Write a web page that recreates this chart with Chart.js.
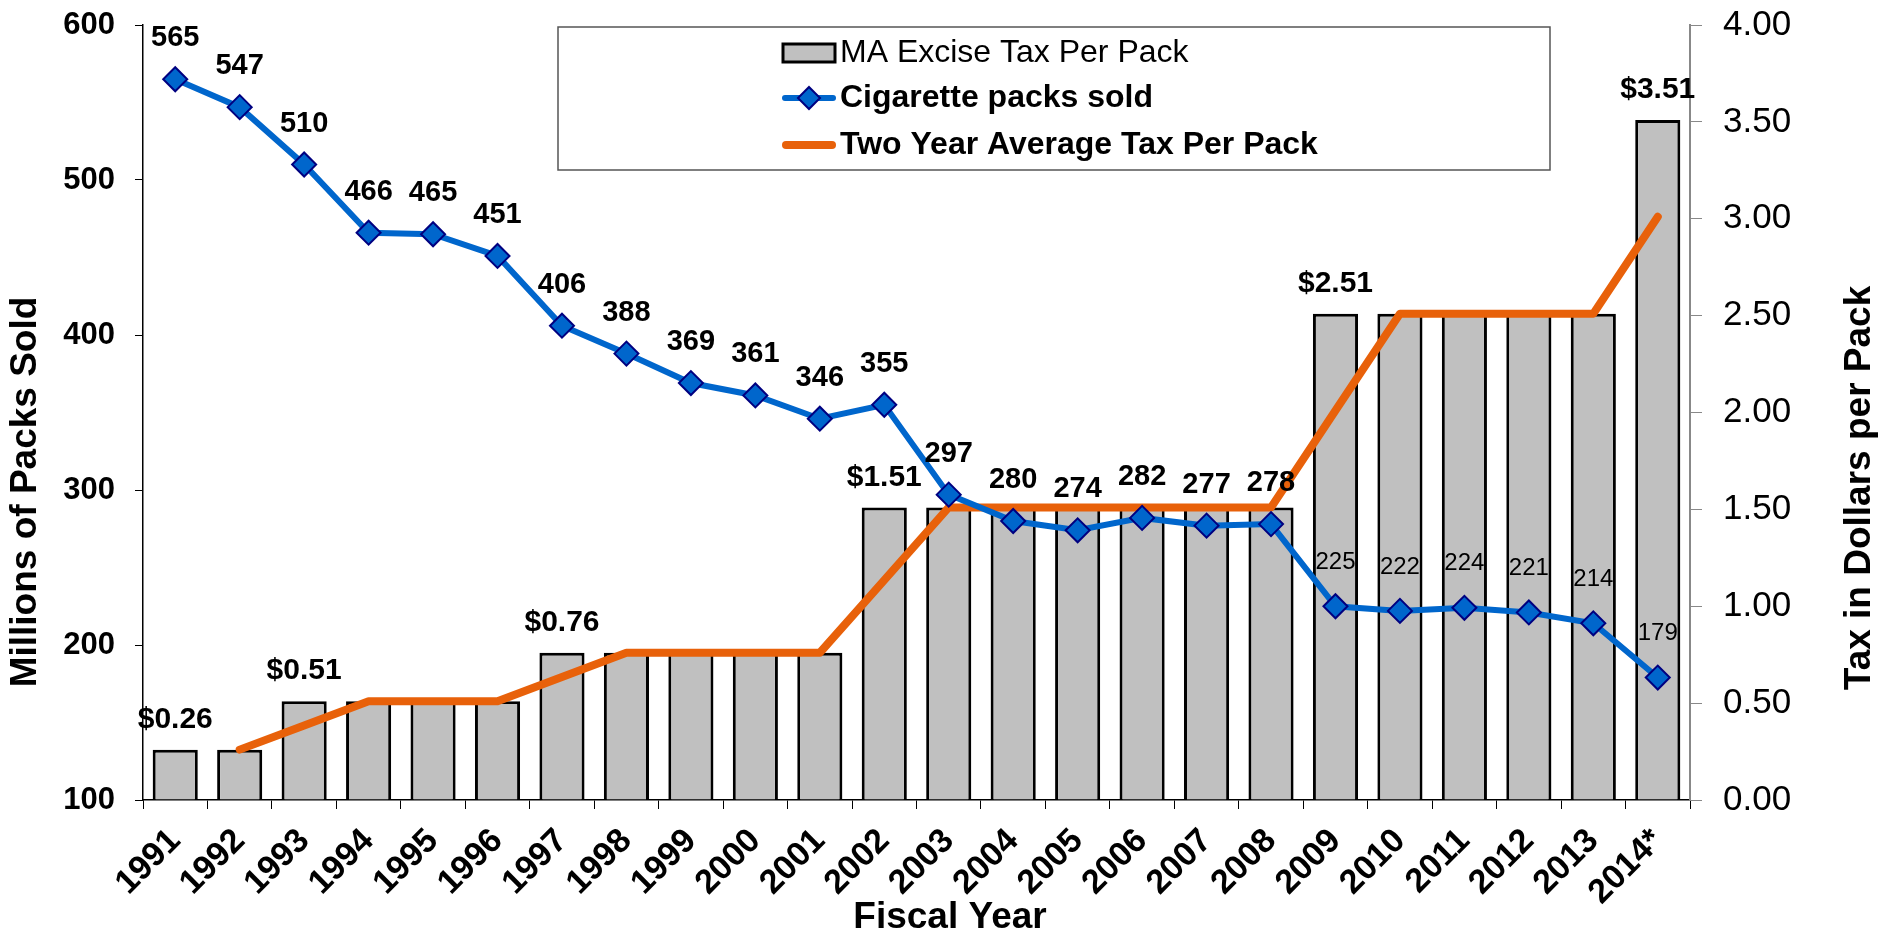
<!DOCTYPE html>
<html>
<head>
<meta charset="utf-8">
<title>MA cigarette packs sold and excise tax</title>
<script src="https://cdn.jsdelivr.net/npm/chart.js@4.4.1/dist/chart.umd.min.js"></script>
<style>
  body { margin: 0; background: #fff; }
  canvas { display: block; }
</style>
</head>
<body>
<canvas id="tax" width="1881" height="935"></canvas>
<script>
const years = ['1991', '1992', '1993', '1994', '1995', '1996', '1997', '1998', '1999', '2000',
  '2001', '2002', '2003', '2004', '2005', '2006', '2007', '2008', '2009', '2010',
  '2011', '2012', '2013', '2014*'];
// millions of packs
const packsSold = [565, 547, 510, 466, 465, 451, 406, 388, 369, 361,
  346, 355, 297, 280, 274, 282, 277, 278, 225, 222,
  224, 221, 214, 179];
// dollars per pack
const exciseTax = [0.26, 0.26, 0.51, 0.51, 0.51, 0.51, 0.76, 0.76, 0.76, 0.76,
  0.76, 1.51, 1.51, 1.51, 1.51, 1.51, 1.51, 1.51, 2.51, 2.51,
  2.51, 2.51, 2.51, 3.51];
const twoYearAvg = [null, 0.26, 0.385, 0.51, 0.51, 0.51, 0.635, 0.76, 0.76, 0.76,
  0.76, 1.135, 1.51, 1.51, 1.51, 1.51, 1.51, 1.51, 2.01, 2.51,
  2.51, 2.51, 2.51, 3.01];
const taxLabels = ['$0.26', null, '$0.51', null, null, null, '$0.76', null, null, null,
  null, '$1.51', null, null, null, null, null, null, '$2.51', null,
  null, null, null, '$3.51'];
const legendNames = ['MA Excise Tax Per Pack', 'Cigarette packs sold', 'Two Year Average Tax Per Pack'];

const FONT = '"Liberation Sans", Arial, sans-serif';
const GRAY = '#C0C0C0';
const BLUE = '#0066CC';
const NAVY = '#000080';
const ORANGE = '#E8610A';

const valueLabels = {
  id: 'valueLabels',
  afterDatasetsDraw(chart) {
    const ctx = chart.ctx;
    ctx.save();
    ctx.fillStyle = '#000';
    ctx.textAlign = 'center';
    ctx.textBaseline = 'middle';
    ctx.font = 'bold 30px ' + FONT;
    chart.getDatasetMeta(0).data.forEach(function (bar, i) {
      if (taxLabels[i]) ctx.fillText(taxLabels[i], bar.x, bar.y - 30);
    });
    chart.getDatasetMeta(2).data.forEach(function (pt, i) {
      var recent = parseInt(years[i]) >= 2009;
      ctx.font = recent ? '24px ' + FONT : 'bold 29px ' + FONT;
      ctx.fillText(String(packsSold[i]), pt.x, pt.y - (recent ? 44 : 41));
    });
    ctx.restore();
  }
};

const boxAndTitles = {
  id: 'boxAndTitles',
  afterDraw(chart) {
    const ctx = chart.ctx;
    ctx.save();
    // legend box
    ctx.fillStyle = '#fff';
    ctx.strokeStyle = '#555';
    ctx.lineWidth = 1.5;
    ctx.fillRect(558, 27, 992, 143);
    ctx.strokeRect(558, 27, 992, 143);

    var rows = [53, 98, 145];
    var sx = 782, ex = 836;
    ctx.fillStyle = GRAY;
    ctx.strokeStyle = '#000';
    ctx.lineWidth = 3;
    ctx.fillRect(sx + 1, rows[0] - 9, ex - sx - 2, 18);
    ctx.strokeRect(sx + 1, rows[0] - 9, ex - sx - 2, 18);

    ctx.lineCap = 'round';
    ctx.strokeStyle = BLUE;
    ctx.lineWidth = 6;
    ctx.beginPath(); ctx.moveTo(sx + 3, rows[1]); ctx.lineTo(ex - 3, rows[1]); ctx.stroke();
    var cx = (sx + ex) / 2, r = 11;
    ctx.beginPath();
    ctx.moveTo(cx, rows[1] - r); ctx.lineTo(cx + r, rows[1]);
    ctx.lineTo(cx, rows[1] + r); ctx.lineTo(cx - r, rows[1]); ctx.closePath();
    ctx.fillStyle = BLUE; ctx.fill();
    ctx.strokeStyle = NAVY; ctx.lineWidth = 2; ctx.stroke();

    ctx.strokeStyle = ORANGE;
    ctx.lineWidth = 8;
    ctx.beginPath(); ctx.moveTo(sx + 4, rows[2]); ctx.lineTo(ex - 4, rows[2]); ctx.stroke();

    ctx.fillStyle = '#000';
    ctx.textAlign = 'left';
    ctx.textBaseline = 'middle';
    ctx.font = '32px ' + FONT;
    ctx.fillText(legendNames[0], 840, rows[0]);
    ctx.font = 'bold 32px ' + FONT;
    ctx.fillText(legendNames[1], 840, rows[1]);
    ctx.fillText(legendNames[2], 840, rows[2]);

    // axis titles
    ctx.font = 'bold 37px ' + FONT;
    ctx.textAlign = 'center';
    ctx.fillText('Fiscal Year', 950, 918);
    ctx.translate(26, 492);
    ctx.rotate(-Math.PI / 2);
    ctx.fillText('Millions of Packs Sold', 0, 0);
    ctx.setTransform(1, 0, 0, 1, 0, 0);
    ctx.translate(1860, 488);
    ctx.rotate(-Math.PI / 2);
    ctx.fillText('Tax in Dollars per Pack', 0, 0);
    ctx.restore();
  }
};

function noPad(scale) {
  scale.paddingTop = 0;
  scale.paddingBottom = 0;
  scale.paddingLeft = 0;
  scale.paddingRight = 0;
}

const ctx = document.getElementById('tax').getContext('2d');
const taxChart = new Chart(ctx, {
  type: 'bar',
  data: {
    labels: years,
    datasets: [{
      type: 'bar',
      label: legendNames[0],
      data: exciseTax,
      yAxisID: 'y1',
      backgroundColor: GRAY,
      borderColor: '#000',
      borderWidth: 3,
      barPercentage: 0.7,
      categoryPercentage: 1,
      order: 3
    }, {
      type: 'line',
      label: legendNames[2],
      data: twoYearAvg,
      yAxisID: 'y1',
      borderColor: ORANGE,
      borderWidth: 8,
      borderCapStyle: 'round',
      borderJoinStyle: 'round',
      pointRadius: 0,
      tension: 0,
      order: 2
    }, {
      type: 'line',
      label: legendNames[1],
      data: packsSold,
      yAxisID: 'y',
      borderColor: BLUE,
      borderWidth: 6,
      pointStyle: 'rectRot',
      pointRadius: 12,
      pointBackgroundColor: BLUE,
      pointBorderColor: NAVY,
      pointBorderWidth: 2,
      tension: 0,
      order: 1
    }]
  },
  options: {
    responsive: false,
    animation: false,
    devicePixelRatio: 1,
    layout: { padding: { top: 25, left: 0, right: 0, bottom: 0 } },
    plugins: {
      legend: { display: false },
      tooltip: { enabled: false }
    },
    scales: {
      x: {
        offset: true,
        grid: { display: true, drawOnChartArea: false, offset: true, tickLength: 9, color: '#000' },
        border: { color: '#000', width: 1.5 },
        ticks: {
          color: '#000',
          font: { family: FONT, size: 34, weight: 'bold' },
          minRotation: 45,
          maxRotation: 45,
          padding: 12,
          autoSkip: false
        },
        afterFit: function (scale) { scale.height = 135; noPad(scale); }
      },
      y: {
        position: 'left',
        min: 100,
        max: 600,
        grid: { drawOnChartArea: false, tickLength: 8, color: '#000' },
        border: { color: '#000', width: 1.5 },
        ticks: {
          stepSize: 100,
          color: '#000',
          padding: 20,
          font: { family: FONT, size: 31, weight: 'bold' }
        },
        afterFit: function (scale) { scale.width = 143; noPad(scale); }
      },
      y1: {
        position: 'right',
        min: 0,
        max: 4,
        grid: { drawOnChartArea: false, tickLength: 12, color: '#888' },
        border: { color: '#888', width: 2 },
        ticks: {
          stepSize: 0.5,
          color: '#000',
          padding: 21,
          font: { family: FONT, size: 35 },
          callback: function (v) { return v.toFixed(2); }
        },
        afterFit: function (scale) { scale.width = 191; noPad(scale); }
      }
    }
  },
  plugins: [valueLabels, boxAndTitles]
});
</script>
</body>
</html>
